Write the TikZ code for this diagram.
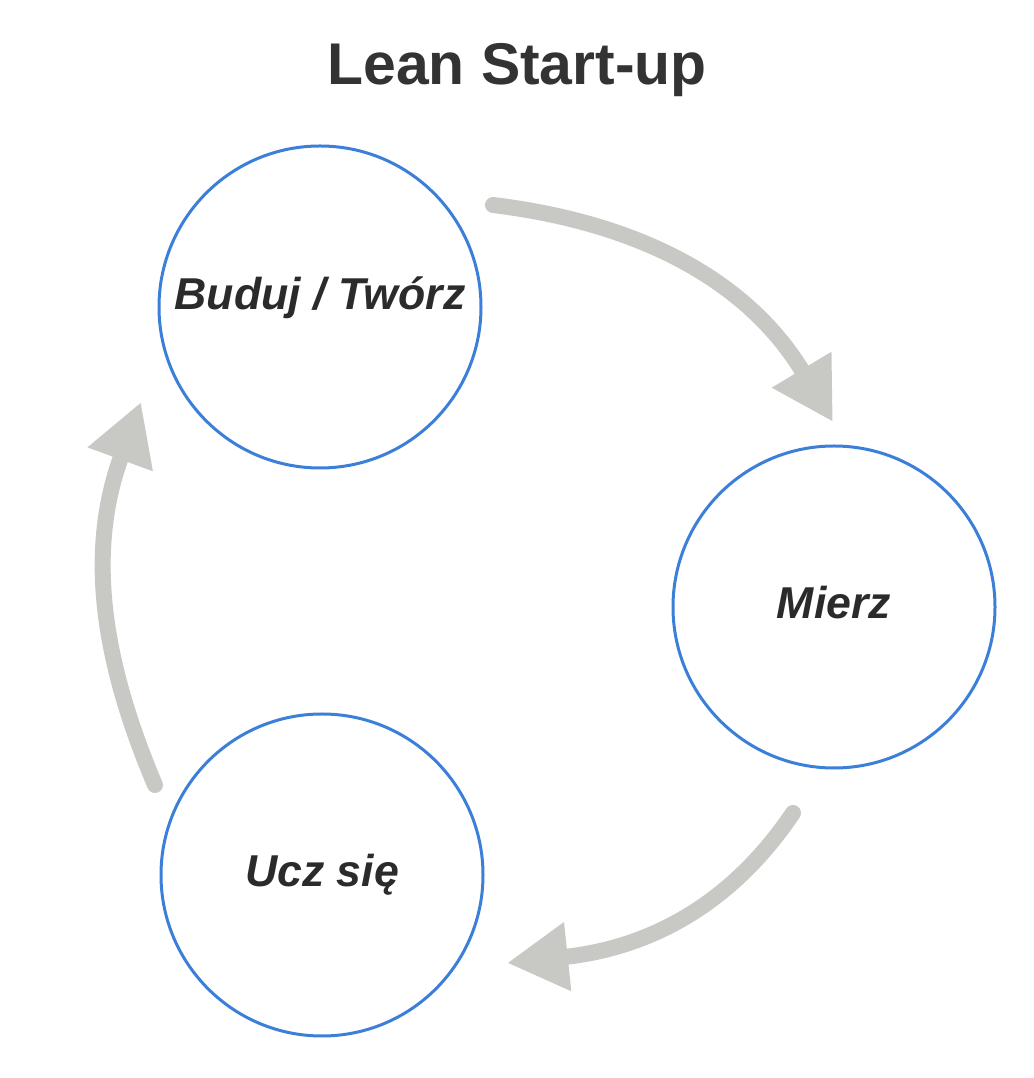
\documentclass[tikz,border=0pt]{standalone}
\usepackage{fontspec}
\setmainfont{Liberation Sans}
\usetikzlibrary{arrows.meta}
\definecolor{ringblue}{RGB}{60,127,217}
\definecolor{arrowgray}{RGB}{200,200,197}
\definecolor{inkgray}{RGB}{43,43,43}
\definecolor{titlegray}{RGB}{51,51,51}

\begin{document}
\begin{tikzpicture}[
		stage/.style={circle, draw=ringblue, line width=0.06cm, minimum size=6.44cm, inner sep=0pt,
			text=inkgray, font=\fontsize{25.4}{29}\selectfont\bfseries\itshape,
			text height=0.62cm, text depth=0.17cm},
		cyclearrow/.style={draw=arrowgray, line width=0.32cm, line cap=round,
			-{Triangle[length=1.22cm, width=1.3cm]}}
	]
		%%%%% START %%%%%
		\useasboundingbox (0, 0) rectangle (20.68, 21.56);
		
		\node (title) [anchor=base, text=titlegray, font=\fontsize{33.5}{40}\selectfont\bfseries] at (10.34, 19.86) {Lean Start-up};
		
		\node (buduj) [stage, text depth=0.5cm] at (6.40, 15.42) {Buduj / Twórz};
		\node (mierz) [stage] at (16.68, 9.42) {Mierz};
		\node (ucz) [stage] at (6.44, 4.06) {Ucz się};
		
		\coordinate (a1s) at (9.86, 17.46);
		\coordinate (a1e) at (16.66, 13.12);
		\coordinate (a2s) at (15.86, 5.30);
		\coordinate (a2e) at (10.14, 2.30);
		\coordinate (a3s) at (3.10, 5.86);
		\coordinate (a3e) at (2.82, 13.52);
		
		\draw[cyclearrow] (a1s) to[out=-7, in=121] (a1e);
		\draw[cyclearrow] (a2s) to[out=-124, in=6] (a2e);
		\draw[cyclearrow] (a3s) to[out=113, in=-110] (a3e);
		
		%%%%% END %%%%%
	\end{tikzpicture}
\end{document}
